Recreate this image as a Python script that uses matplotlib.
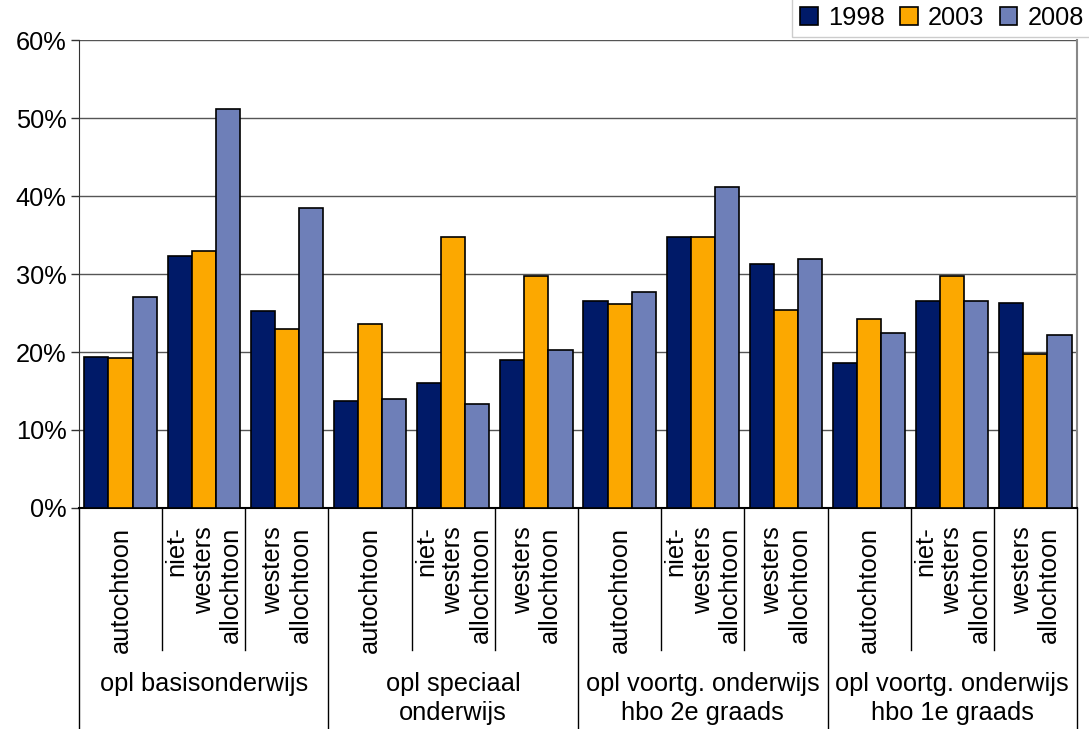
import numpy as np
import matplotlib.pyplot as plt
import matplotlib.transforms as mtransforms
from matplotlib.patches import Patch

plt.rcParams['font.family'] = ['Liberation Sans', 'DejaVu Sans']

# ------------------------------------------------------------
# Data (percentages)
# ------------------------------------------------------------
groups = ["opl basisonderwijs", "opl speciaal\nonderwijs",
          "opl voortg. onderwijs\nhbo 2e graads", "opl voortg. onderwijs\nhbo 1e graads"]
subcats = ["autochtoon", "niet-\nwesters\nallochtoon", "westers\nallochtoon"]
years = ["1998", "2003", "2008"]

v1998 = [19.4, 32.3, 25.2, 13.7, 16.0, 19.0, 26.5, 34.8, 31.3, 18.6, 26.5, 26.3]
v2003 = [19.2, 33.0, 22.9, 23.6, 34.8, 29.7, 26.1, 34.8, 25.4, 24.2, 29.7, 19.7]
v2008 = [27.0, 51.1, 38.5, 14.0, 13.3, 20.2, 27.7, 41.2, 31.9, 22.4, 26.5, 22.2]

colors = ["#001A68", "#FCA800", "#6E7FB8"]
fs = 18.3

# ------------------------------------------------------------
# Figure
# ------------------------------------------------------------
fig = plt.figure(figsize=(10.89, 7.29), dpi=100)
ax = fig.add_axes([0.0725, 0.3032, 0.9165, 0.6418])

n = len(v1998)
x = np.arange(n)
w = 0.29
for k, (vals, c, lab) in enumerate(zip([v1998, v2003, v2008], colors, years)):
    ax.bar(x + (k - 1) * w, vals, width=w, color=c, edgecolor="black",
           linewidth=1.2, label=lab, zorder=3)

ax.set_xlim(-0.5, n - 0.5)
ax.set_ylim(0, 60)
ax.set_yticks(np.arange(0, 61, 10))
ax.set_yticklabels([f"{t}%" for t in range(0, 61, 10)], fontsize=fs)
ax.yaxis.grid(True, color="#555555", linewidth=1.0, zorder=0)
ax.tick_params(axis="y", length=6, width=1, color="#333333", pad=3)
ax.set_xticks([])

ax.spines["top"].set_visible(False)
ax.spines["right"].set_color("#888888")
ax.spines["right"].set_linewidth(1.5)
ax.spines["left"].set_color("#333333")
ax.spines["bottom"].set_color("black")
ax.spines["bottom"].set_linewidth(1.5)

# ------------------------------------------------------------
# Category labels and separators below the axis
# ------------------------------------------------------------
trans = mtransforms.blended_transform_factory(ax.transData, ax.transAxes)
for i in range(n):
    ax.text(i, -0.04, subcats[i % 3], rotation=90, ha="center", va="top",
            multialignment="right", fontsize=fs, linespacing=1.17,
            transform=trans)

for b in range(n + 1):
    major = b % 3 == 0
    ylow = -0.48 if major else -0.303
    ax.plot([b - 0.5, b - 0.5], [0, ylow], color="black", linewidth=1.0,
            transform=trans, clip_on=False)

for g, name in enumerate(groups):
    ax.text(g * 3 + 1, -0.35, name, ha="center", va="top", fontsize=fs,
            linespacing=1.3, transform=trans)

# ------------------------------------------------------------
# Legend (top right, over the plot border)
# ------------------------------------------------------------
handles = [Patch(facecolor=c, edgecolor="black", linewidth=1.2) for c in colors]
leg = fig.legend(handles, years, loc="upper right", bbox_to_anchor=(1.014, 1.02),
                 ncol=3, fontsize=fs, frameon=True, fancybox=False,
                 edgecolor="#cccccc", framealpha=1, handlelength=0.7,
                 handleheight=0.7, handletextpad=0.4, columnspacing=0.6,
                 borderpad=0.3)

plt.savefig("out.png", dpi=100)
